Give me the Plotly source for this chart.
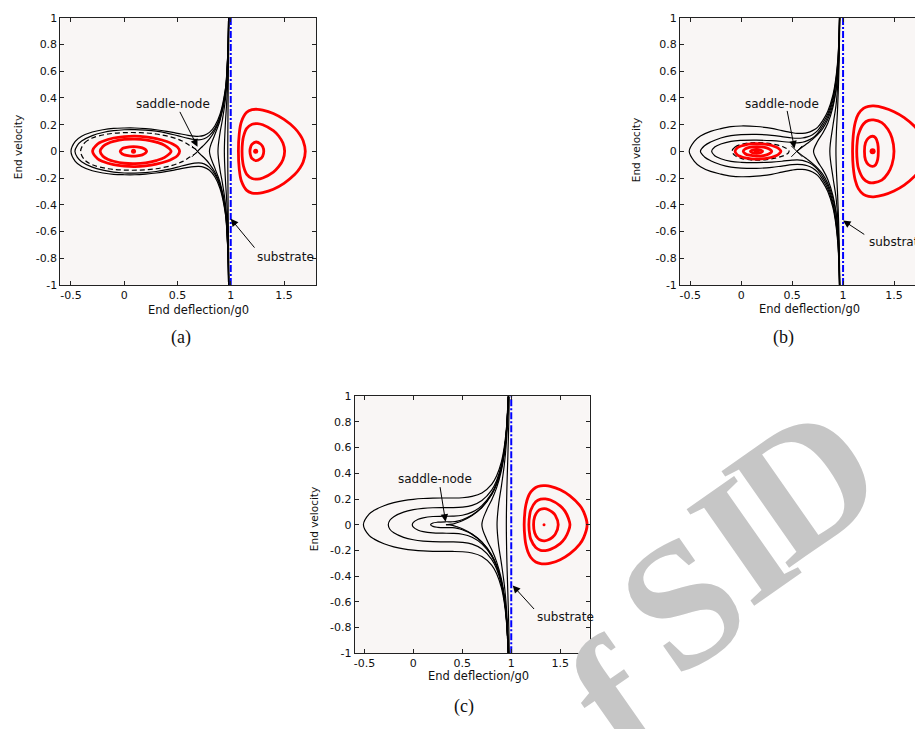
import plotly.graph_objects as go

W, H = 915, 729

# ---------------- tick labels ----------------
x_tick_vals = [-0.5, 0, 0.5, 1, 1.5]
x_tick_text = ["-0.5", "0", "0.5", "1", "1.5"]
y_tick_vals = [-1, -0.8, -0.6, -0.4, -0.2, 0, 0.2, 0.4, 0.6, 0.8, 1]
y_tick_text = ["-1", "-0.8", "-0.6", "-0.4", "-0.2", "0", "0.2", "0.4", "0.6", "0.8", "1"]

# substrate position (same in every panel)
substrate_x = [1.0, 1.0]
substrate_v = [-1.0, 1.0]

# =============== panel (a) ===============
a_red_in_x = [-0.038, -0.02, 0.0, 0.05, 0.087, 0.12, 0.17, 0.2, 0.21]
a_red_in_top = [0.0, 0.019, 0.026, 0.034, 0.036, 0.034, 0.026, 0.013, 0.0]
a_red_in_bot = [0.0, -0.019, -0.026, -0.034, -0.036, -0.034, -0.026, -0.013, 0.0]

a_red_mid_x = [-0.226, -0.2, -0.15, -0.1, 0.0, 0.1, 0.2, 0.3, 0.38, 0.44]
a_red_mid_top = [0.0, 0.037, 0.061, 0.074, 0.089, 0.092, 0.086, 0.069, 0.045, 0.0]
a_red_mid_bot = [0.0, -0.037, -0.061, -0.074, -0.089, -0.092, -0.086, -0.069, -0.045, 0.0]

a_red_out_x = [-0.297, -0.25, -0.2, -0.1, 0.0, 0.1, 0.2, 0.3, 0.4, 0.45, 0.5, 0.52]
a_red_out_top = [0.0, 0.055, 0.076, 0.1, 0.111, 0.114, 0.109, 0.096, 0.074, 0.057, 0.032, 0.0]
a_red_out_bot = [0.0, -0.055, -0.076, -0.1, -0.111, -0.114, -0.109, -0.096, -0.074, -0.057, -0.032, 0.0]

a_dash_x = [-0.41, -0.37, -0.3, -0.15, 0.0, 0.15, 0.3, 0.45, 0.55, 0.62, 0.687]
a_dash_top = [0.0, 0.065, 0.1, 0.13, 0.14, 0.14, 0.13, 0.105, 0.075, 0.04, 0.0]
a_dash_bot = [0.0, -0.065, -0.1, -0.13, -0.14, -0.14, -0.13, -0.105, -0.075, -0.04, 0.0]

a_c1_x = [0.98, 0.975, 0.965, 0.95, 0.9, 0.85, 0.8, 0.75, 0.7, 0.6, 0.5, 0.4, 0.3, 0.2, 0.1, 0.0, -0.1, -0.2, -0.3, -0.4, -0.46, -0.5]
a_c1_top = [1.0, 0.8, 0.62, 0.47, 0.28, 0.19, 0.142, 0.12, 0.113, 0.12, 0.135, 0.15, 0.162, 0.17, 0.175, 0.175, 0.172, 0.162, 0.145, 0.113, 0.075, 0.0]
a_c1_bot = [-1.0, -0.8, -0.62, -0.47, -0.28, -0.19, -0.142, -0.12, -0.113, -0.12, -0.135, -0.15, -0.162, -0.17, -0.175, -0.175, -0.172, -0.162, -0.145, -0.113, -0.075, 0.0]

a_c2_x = [0.98, 0.975, 0.965, 0.95, 0.9, 0.85, 0.8, 0.75, 0.7, 0.6, 0.5, 0.4, 0.3, 0.2, 0.1, 0.0, -0.1, -0.2, -0.3, -0.4, -0.44, -0.463]
a_c2_top = [1.0, 0.79, 0.61, 0.46, 0.26, 0.17, 0.12, 0.094, 0.086, 0.097, 0.118, 0.137, 0.151, 0.159, 0.163, 0.162, 0.155, 0.141, 0.118, 0.077, 0.045, 0.0]
a_c2_bot = [-1.0, -0.79, -0.61, -0.46, -0.26, -0.17, -0.12, -0.094, -0.086, -0.097, -0.118, -0.137, -0.151, -0.159, -0.163, -0.162, -0.155, -0.141, -0.118, -0.077, -0.045, 0.0]

a_sep_x = [0.98, 0.975, 0.965, 0.95, 0.9, 0.85, 0.8, 0.75, 0.72, 0.687]
a_sep_top = [1.0, 0.78, 0.6, 0.44, 0.25, 0.155, 0.093, 0.048, 0.026, 0.0]
a_sep_bot = [-1.0, -0.78, -0.6, -0.44, -0.25, -0.155, -0.093, -0.048, -0.026, 0.0]

a_p1_x = [0.98, 0.975, 0.965, 0.95, 0.9, 0.85, 0.8]
a_p1_top = [1.0, 0.8, 0.6, 0.43, 0.233, 0.124, 0.0]
a_p1_bot = [-1.0, -0.8, -0.6, -0.43, -0.233, -0.124, 0.0]
a_p2_x = [0.981, 0.976, 0.967, 0.95, 0.92, 0.9, 0.88]
a_p2_top = [1.0, 0.78, 0.58, 0.39, 0.229, 0.142, 0.0]
a_p2_bot = [-1.0, -0.78, -0.58, -0.39, -0.229, -0.142, 0.0]
a_p3_x = [0.982, 0.977, 0.97, 0.96, 0.95, 0.94]
a_p3_top = [1.0, 0.72, 0.5, 0.34, 0.214, 0.0]
a_p3_bot = [-1.0, -0.72, -0.5, -0.34, -0.214, 0.0]
a_p4_x = [0.983, 0.98, 0.977, 0.975, 0.972]
a_p4_top = [1.0, 0.75, 0.55, 0.38, 0.0]
a_p4_bot = [-1.0, -0.75, -0.55, -0.38, 0.0]

a_rr_out_x = [1.072, 1.08, 1.1, 1.15, 1.2, 1.25, 1.3, 1.4, 1.5, 1.6, 1.65, 1.68, 1.7]
a_rr_out_top = [0.0, 0.133, 0.222, 0.292, 0.312, 0.315, 0.309, 0.283, 0.239, 0.174, 0.125, 0.08, 0.0]
a_rr_out_bot = [0.0, -0.133, -0.222, -0.292, -0.312, -0.315, -0.309, -0.283, -0.239, -0.174, -0.125, -0.08, 0.0]
a_rr_mid_x = [1.106, 1.11, 1.12, 1.15, 1.2, 1.25, 1.3, 1.4, 1.45, 1.49, 1.506]
a_rr_mid_top = [0.0, 0.064, 0.112, 0.172, 0.203, 0.208, 0.199, 0.155, 0.115, 0.062, 0.0]
a_rr_mid_bot = [0.0, -0.064, -0.112, -0.172, -0.203, -0.208, -0.199, -0.155, -0.115, -0.062, 0.0]
a_rr_in_x = [1.18, 1.19, 1.2, 1.238, 1.28, 1.3, 1.31]
a_rr_in_top = [0.0, 0.04, 0.054, 0.07, 0.055, 0.035, 0.0]
a_rr_in_bot = [0.0, -0.04, -0.054, -0.07, -0.055, -0.035, 0.0]

a_center_x = [0.087, 1.234]
a_center_v = [0.0, 0.0]
a_saddle_x = [0.687]
a_saddle_v = [0.0]

# =============== panel (b) ===============
b_red_out_x = [-0.06, -0.04, 0.0, 0.05, 0.1, 0.15, 0.2, 0.25, 0.3, 0.34, 0.37, 0.39]
b_red_out_top = [0.0, 0.025, 0.04, 0.051, 0.056, 0.058, 0.056, 0.052, 0.044, 0.033, 0.02, 0.0]
b_red_out_bot = [0.0, -0.025, -0.04, -0.051, -0.056, -0.058, -0.056, -0.052, -0.044, -0.033, -0.02, 0.0]
b_red_mid_x = [0.02, 0.04, 0.08, 0.15, 0.22, 0.27, 0.3]
b_red_mid_top = [0.0, 0.018, 0.029, 0.035, 0.031, 0.02, 0.0]
b_red_mid_bot = [0.0, -0.018, -0.029, -0.035, -0.031, -0.02, 0.0]
b_red_in_x = [0.09, 0.11, 0.15, 0.19, 0.21]
b_red_in_top = [0.0, 0.01, 0.014, 0.01, 0.0]
b_red_in_bot = [0.0, -0.01, -0.014, -0.01, 0.0]

b_dash_x = [-0.09, -0.06, 0.0, 0.08, 0.15, 0.25, 0.35, 0.42, 0.46, 0.47]
b_dash_top = [0.0, 0.032, 0.052, 0.063, 0.066, 0.062, 0.048, 0.031, 0.014, 0.0]
b_dash_bot = [0.0, -0.032, -0.052, -0.063, -0.066, -0.062, -0.048, -0.031, -0.014, 0.0]

b_c1_x = [0.965, 0.96, 0.95, 0.93, 0.9, 0.85, 0.8, 0.75, 0.7, 0.65, 0.6, 0.55, 0.5, 0.4, 0.3, 0.15, 0.0, -0.1, -0.2, -0.3, -0.4, -0.46, -0.51]
b_c1_top = [1.0, 0.86, 0.7, 0.55, 0.42, 0.3, 0.23, 0.18, 0.155, 0.14, 0.135, 0.135, 0.14, 0.155, 0.172, 0.186, 0.19, 0.185, 0.17, 0.15, 0.115, 0.075, 0.0]
b_c1_bot = [-1.0, -0.86, -0.7, -0.55, -0.42, -0.3, -0.23, -0.18, -0.155, -0.14, -0.135, -0.135, -0.14, -0.155, -0.172, -0.186, -0.19, -0.185, -0.17, -0.15, -0.115, -0.075, 0.0]
b_c2_x = [0.965, 0.96, 0.95, 0.93, 0.9, 0.85, 0.8, 0.75, 0.7, 0.65, 0.6, 0.55, 0.5, 0.4, 0.3, 0.15, 0.0, -0.1, -0.2, -0.3, -0.36, -0.4]
b_c2_top = [1.0, 0.85, 0.68, 0.53, 0.4, 0.28, 0.21, 0.155, 0.125, 0.108, 0.1, 0.098, 0.1, 0.11, 0.12, 0.127, 0.125, 0.118, 0.1, 0.07, 0.042, 0.0]
b_c2_bot = [-1.0, -0.85, -0.68, -0.53, -0.4, -0.28, -0.21, -0.155, -0.125, -0.108, -0.1, -0.098, -0.1, -0.11, -0.12, -0.127, -0.125, -0.118, -0.1, -0.07, -0.042, 0.0]
b_c3_x = [0.965, 0.96, 0.95, 0.93, 0.9, 0.85, 0.8, 0.75, 0.7, 0.65, 0.6, 0.55, 0.5, 0.4, 0.3, 0.15, 0.0, -0.1, -0.2, -0.26, -0.29]
b_c3_top = [1.0, 0.84, 0.67, 0.52, 0.38, 0.26, 0.19, 0.135, 0.1, 0.08, 0.068, 0.064, 0.066, 0.074, 0.08, 0.084, 0.082, 0.075, 0.055, 0.033, 0.0]
b_c3_bot = [-1.0, -0.84, -0.67, -0.52, -0.38, -0.26, -0.19, -0.135, -0.1, -0.08, -0.068, -0.064, -0.066, -0.074, -0.08, -0.084, -0.082, -0.075, -0.055, -0.033, 0.0]

b_sep_x = [0.966, 0.96, 0.95, 0.93, 0.9, 0.85, 0.8, 0.75, 0.7, 0.65, 0.6, 0.546]
b_sep_top = [1.0, 0.78, 0.6, 0.46, 0.35, 0.24, 0.17, 0.125, 0.09, 0.06, 0.032, 0.0]
b_sep_bot = [-1.0, -0.78, -0.6, -0.46, -0.35, -0.24, -0.17, -0.125, -0.09, -0.06, -0.032, 0.0]

b_p1_x = [0.966, 0.96, 0.95, 0.93, 0.9, 0.85, 0.8, 0.75, 0.71]
b_p1_top = [1.0, 0.76, 0.6, 0.45, 0.33, 0.21, 0.135, 0.075, 0.0]
b_p1_bot = [-1.0, -0.76, -0.6, -0.45, -0.33, -0.21, -0.135, -0.075, 0.0]
b_p2_x = [0.967, 0.962, 0.955, 0.945, 0.93, 0.9, 0.87]
b_p2_top = [1.0, 0.8, 0.62, 0.47, 0.34, 0.19, 0.0]
b_p2_bot = [-1.0, -0.8, -0.62, -0.47, -0.34, -0.19, 0.0]
b_p3_x = [0.968, 0.962, 0.955, 0.945, 0.935, 0.93]
b_p3_top = [1.0, 0.7, 0.5, 0.3, 0.15, 0.0]
b_p3_bot = [-1.0, -0.7, -0.5, -0.3, -0.15, 0.0]

b_rr_out_x = [1.093, 1.1, 1.12, 1.15, 1.2, 1.25, 1.3, 1.4, 1.5, 1.6, 1.7, 1.75, 1.81]
b_rr_out_top = [0.0, 0.12, 0.218, 0.279, 0.322, 0.337, 0.34, 0.326, 0.297, 0.253, 0.188, 0.141, 0.0]
b_rr_out_bot = [0.0, -0.12, -0.218, -0.279, -0.322, -0.337, -0.34, -0.326, -0.297, -0.253, -0.188, -0.141, 0.0]
b_rr_mid_x = [1.134, 1.14, 1.15, 1.2, 1.25, 1.3, 1.38, 1.44, 1.48, 1.5]
b_rr_mid_top = [0.0, 0.08, 0.125, 0.205, 0.232, 0.235, 0.215, 0.165, 0.1, 0.0]
b_rr_mid_bot = [0.0, -0.08, -0.125, -0.205, -0.232, -0.235, -0.215, -0.165, -0.1, 0.0]
b_rr_in_x = [1.21, 1.22, 1.25, 1.29, 1.32, 1.34, 1.346]
b_rr_in_top = [0.0, 0.065, 0.1, 0.113, 0.1, 0.06, 0.0]
b_rr_in_bot = [0.0, -0.065, -0.1, -0.113, -0.1, -0.06, 0.0]

b_center_x = [0.153, 1.29]
b_center_v = [0.0, 0.0]
b_saddle_x = [0.546]
b_saddle_v = [0.0]

# =============== panel (c) ===============
c_c1_x = [0.967, 0.96, 0.95, 0.93, 0.9, 0.85, 0.8, 0.7, 0.6, 0.5, 0.4, 0.3, 0.2, 0.1, 0.0, -0.1, -0.2, -0.3, -0.4, -0.45, -0.51]
c_c1_top = [1.0, 0.844, 0.744, 0.611, 0.491, 0.379, 0.314, 0.247, 0.22, 0.21, 0.208, 0.208, 0.207, 0.204, 0.198, 0.188, 0.172, 0.148, 0.112, 0.085, 0.0]
c_c1_bot = [-1.0, -0.844, -0.744, -0.611, -0.491, -0.379, -0.314, -0.247, -0.22, -0.21, -0.208, -0.208, -0.207, -0.204, -0.198, -0.188, -0.172, -0.148, -0.112, -0.085, 0.0]
c_c2_x = [0.969, 0.95, 0.93, 0.9, 0.85, 0.8, 0.7, 0.6, 0.5, 0.4, 0.3, 0.2, 0.1, 0.0, -0.1, -0.2, -0.24, -0.256]
c_c2_top = [1.0, 0.727, 0.59, 0.465, 0.343, 0.27, 0.189, 0.151, 0.137, 0.133, 0.133, 0.132, 0.127, 0.117, 0.098, 0.063, 0.035, 0.0]
c_c2_bot = [-1.0, -0.727, -0.59, -0.465, -0.343, -0.27, -0.189, -0.151, -0.137, -0.133, -0.133, -0.132, -0.127, -0.117, -0.098, -0.063, -0.035, 0.0]
c_c3_x = [0.971, 0.95, 0.93, 0.9, 0.85, 0.8, 0.7, 0.6, 0.5, 0.4, 0.3, 0.2, 0.1, 0.05, 0.0, -0.011]
c_c3_top = [1.0, 0.718, 0.578, 0.45, 0.323, 0.244, 0.149, 0.098, 0.074, 0.067, 0.066, 0.064, 0.054, 0.043, 0.019, 0.0]
c_c3_bot = [-1.0, -0.718, -0.578, -0.45, -0.323, -0.244, -0.149, -0.098, -0.074, -0.067, -0.066, -0.064, -0.054, -0.043, -0.019, 0.0]
c_c4_x = [0.971, 0.95, 0.93, 0.9, 0.85, 0.8, 0.7, 0.6, 0.5, 0.45, 0.4, 0.333, 0.25, 0.2, 0.176]
c_c4_top = [1.0, 0.715, 0.575, 0.446, 0.317, 0.236, 0.136, 0.075, 0.039, 0.028, 0.023, 0.023, 0.02, 0.013, 0.0]
c_c4_bot = [-1.0, -0.715, -0.575, -0.446, -0.317, -0.236, -0.136, -0.075, -0.039, -0.028, -0.023, -0.023, -0.02, -0.013, 0.0]

c_sep_x = [0.971, 0.95, 0.93, 0.9, 0.85, 0.8, 0.7, 0.6, 0.5, 0.45, 0.4, 0.333]
c_sep_top = [1.0, 0.715, 0.575, 0.445, 0.316, 0.235, 0.134, 0.072, 0.031, 0.017, 0.005, 0.0]
c_sep_bot = [-1.0, -0.715, -0.575, -0.445, -0.316, -0.235, -0.134, -0.072, -0.031, -0.017, -0.005, 0.0]

c_p1_x = [0.971, 0.95, 0.93, 0.9, 0.85, 0.8, 0.75, 0.7]
c_p1_top = [1.0, 0.702, 0.559, 0.424, 0.287, 0.193, 0.117, 0.0]
c_p1_bot = [-1.0, -0.702, -0.559, -0.424, -0.287, -0.193, -0.117, 0.0]
c_p2_x = [0.972, 0.97, 0.95, 0.93, 0.9, 0.87, 0.855]
c_p2_top = [1.0, 0.911, 0.636, 0.473, 0.303, 0.151, 0.0]
c_p2_bot = [-1.0, -0.911, -0.636, -0.473, -0.303, -0.151, 0.0]
c_p3_x = [0.98, 0.975, 0.97, 0.965, 0.96, 0.955, 0.95]
c_p3_top = [1.0, 0.8, 0.653, 0.523, 0.399, 0.266, 0.0]
c_p3_bot = [-1.0, -0.8, -0.653, -0.523, -0.399, -0.266, 0.0]

c_rr_out_x = [1.132, 1.14, 1.15, 1.17, 1.2, 1.25, 1.3, 1.35, 1.4, 1.5, 1.6, 1.7, 1.74, 1.775]
c_rr_out_top = [0.0, 0.106, 0.156, 0.211, 0.255, 0.29, 0.303, 0.304, 0.299, 0.272, 0.225, 0.15, 0.1, 0.0]
c_rr_out_bot = [0.0, -0.106, -0.156, -0.211, -0.255, -0.29, -0.303, -0.304, -0.299, -0.272, -0.225, -0.15, -0.1, 0.0]
c_rr_mid_x = [1.18, 1.19, 1.2, 1.25, 1.3, 1.35, 1.4, 1.5, 1.55, 1.585, 1.6]
c_rr_mid_top = [0.0, 0.084, 0.114, 0.178, 0.199, 0.201, 0.192, 0.147, 0.104, 0.048, 0.0]
c_rr_mid_bot = [0.0, -0.084, -0.114, -0.178, -0.199, -0.201, -0.192, -0.147, -0.104, -0.048, 0.0]
c_rr_in_x = [1.228, 1.24, 1.27, 1.3, 1.34, 1.38, 1.42, 1.45, 1.48]
c_rr_in_top = [0.0, 0.064, 0.104, 0.12, 0.125, 0.117, 0.098, 0.073, 0.0]
c_rr_in_bot = [0.0, -0.064, -0.104, -0.12, -0.125, -0.117, -0.098, -0.073, 0.0]

c_center_x = [1.335]
c_center_v = [0.0]

# ---------------- styling ----------------
RED = "#ff0000"
BLACK = "#000000"
BLUE = "#0000ff"
AXC = "#222222"
BG = "#f9f6f5"
SANS = "DejaVu Sans"
SERIF = "Liberation Serif"
LW = 1.2

fig = go.Figure()


def loop(x, top, bot):
    """Path along the upper branch, then back along the lower branch."""
    return x + x[::-1][1:], top + bot[::-1][1:]


def curve(x, v, ref, color, width, dash="solid"):
    fig.add_trace(go.Scatter(
        x=x, y=v, mode="lines", xaxis="x" + ref, yaxis="y" + ref,
        line=dict(color=color, width=width, dash=dash, shape="spline", smoothing=1.0),
        hoverinfo="skip", showlegend=False))


def orbit(x, top, bot, ref, color, width, dash="solid"):
    xs, vs = loop(x, top, bot)
    curve(xs, vs, ref, color, width, dash)


def branches(x, top, bot, ref):
    curve(x + [None] + x, top + [None] + bot, ref, BLACK, LW)


def markers(x, v, ref, symbol, size, color, lw=0):
    fig.add_trace(go.Scatter(
        x=x, y=v, mode="markers", xaxis="x" + ref, yaxis="y" + ref,
        marker=dict(symbol=symbol, size=size, color=color, line=dict(width=lw, color=color)),
        hoverinfo="skip", showlegend=False))


def substrate(ref):
    fig.add_trace(go.Scatter(
        x=substrate_x, y=substrate_v, mode="lines", xaxis="x" + ref, yaxis="y" + ref,
        line=dict(color=BLUE, width=2, dash="7px,2px,2px,2px"),
        hoverinfo="skip", showlegend=False))


# ---- panel (a) ----
for xs, t, b in [(a_c1_x, a_c1_top, a_c1_bot), (a_c2_x, a_c2_top, a_c2_bot),
                 (a_p1_x, a_p1_top, a_p1_bot), (a_p2_x, a_p2_top, a_p2_bot),
                 (a_p3_x, a_p3_top, a_p3_bot), (a_p4_x, a_p4_top, a_p4_bot)]:
    orbit(xs, t, b, "", BLACK, LW)
branches(a_sep_x, a_sep_top, a_sep_bot, "")
orbit(a_dash_x, a_dash_top, a_dash_bot, "", BLACK, LW, "5px,3px")
for xs, t, b in [(a_red_in_x, a_red_in_top, a_red_in_bot), (a_red_mid_x, a_red_mid_top, a_red_mid_bot),
                 (a_red_out_x, a_red_out_top, a_red_out_bot), (a_rr_in_x, a_rr_in_top, a_rr_in_bot),
                 (a_rr_mid_x, a_rr_mid_top, a_rr_mid_bot), (a_rr_out_x, a_rr_out_top, a_rr_out_bot)]:
    orbit(xs, t, b, "", RED, 2.8)
substrate("")
markers(a_center_x, a_center_v, "", "circle", 5, RED)
markers(a_saddle_x, a_saddle_v, "", "x-thin", 11, BLACK, 1)

# ---- panel (b) ----
for xs, t, b in [(b_c1_x, b_c1_top, b_c1_bot), (b_c2_x, b_c2_top, b_c2_bot),
                 (b_c3_x, b_c3_top, b_c3_bot), (b_p1_x, b_p1_top, b_p1_bot),
                 (b_p2_x, b_p2_top, b_p2_bot), (b_p3_x, b_p3_top, b_p3_bot)]:
    orbit(xs, t, b, "2", BLACK, LW)
branches(b_sep_x, b_sep_top, b_sep_bot, "2")
orbit(b_dash_x, b_dash_top, b_dash_bot, "2", BLACK, LW, "5px,3px")
for xs, t, b in [(b_red_in_x, b_red_in_top, b_red_in_bot), (b_red_mid_x, b_red_mid_top, b_red_mid_bot),
                 (b_red_out_x, b_red_out_top, b_red_out_bot), (b_rr_in_x, b_rr_in_top, b_rr_in_bot),
                 (b_rr_mid_x, b_rr_mid_top, b_rr_mid_bot), (b_rr_out_x, b_rr_out_top, b_rr_out_bot)]:
    orbit(xs, t, b, "2", RED, 2.8)
substrate("2")
markers(b_center_x, b_center_v, "2", "circle", 6, RED)
markers(b_saddle_x, b_saddle_v, "2", "x-thin", 11, BLACK, 1)

# ---- panel (c) ----
for xs, t, b in [(c_c1_x, c_c1_top, c_c1_bot), (c_c2_x, c_c2_top, c_c2_bot),
                 (c_c3_x, c_c3_top, c_c3_bot), (c_c4_x, c_c4_top, c_c4_bot),
                 (c_p1_x, c_p1_top, c_p1_bot), (c_p2_x, c_p2_top, c_p2_bot),
                 (c_p3_x, c_p3_top, c_p3_bot)]:
    orbit(xs, t, b, "3", BLACK, LW)
branches(c_sep_x, c_sep_top, c_sep_bot, "3")
for xs, t, b in [(c_rr_in_x, c_rr_in_top, c_rr_in_bot), (c_rr_mid_x, c_rr_mid_top, c_rr_mid_bot),
                 (c_rr_out_x, c_rr_out_top, c_rr_out_bot)]:
    orbit(xs, t, b, "3", RED, 2.8)
substrate("3")
markers(c_center_x, c_center_v, "3", "circle", 3, RED)


# ---------------- axes ----------------
def px_x(px):
    return px / W


def px_y(py):
    return 1 - py / H


def xaxis(left, right, rng, anchor):
    return dict(domain=[px_x(left), min(1.0, px_x(right))], range=rng, anchor=anchor,
                tickmode="array", tickvals=x_tick_vals, ticktext=x_tick_text,
                ticks="inside", ticklen=4, tickwidth=1, tickcolor=AXC,
                showline=True, linecolor=AXC, linewidth=1, mirror="ticks",
                showgrid=False, zeroline=False, fixedrange=True,
                tickfont=dict(family=SANS, size=11, color="#111111"))


def yaxis(top, bottom, anchor, mirror="ticks"):
    return dict(domain=[px_y(bottom), px_y(top)], range=[-1, 1], anchor=anchor,
                tickmode="array", tickvals=y_tick_vals, ticktext=y_tick_text,
                ticks="inside", ticklen=4, tickwidth=1, tickcolor=AXC,
                showline=True, linecolor=AXC, linewidth=1, mirror=mirror,
                showgrid=False, zeroline=False, fixedrange=True,
                tickfont=dict(family=SANS, size=11, color="#111111"))


fig.update_layout(
    width=W, height=H, margin=dict(l=0, r=0, t=0, b=0),
    paper_bgcolor="white", plot_bgcolor=BG, showlegend=False,
    xaxis=xaxis(59.4, 315.3, [-0.6, 1.8], "y"),
    yaxis=yaxis(12, 284, "x"),
    xaxis2=xaxis(679.8, 915, [-0.6, 1.706], "y2"),
    yaxis2=yaxis(12, 284, "x2", mirror=False),
    xaxis3=xaxis(354, 589.2, [-0.6, 1.8], "y3"),
    yaxis3=yaxis(397.3, 659, "x3"),
)

ann = []

# watermark letters, laid along a diagonal (drawn first so labels sit above)
for ch, wx, wy in [("f", 616, 708), ("S", 682, 607), ("I", 743, 543), ("D", 805, 485)]:
    ann.append(dict(x=px_x(wx), y=px_y(wy), xref="paper", yref="paper", text=ch,
                    showarrow=False, xanchor="center", yanchor="middle", textangle=-35,
                    font=dict(family=SERIF, size=180, color="#c6c6c6", weight="bold")))


def text(px, py, s, size, family=SANS, angle=0, xanchor="center"):
    ann.append(dict(x=px_x(px), y=px_y(py), xref="paper", yref="paper", text=s,
                    showarrow=False, xanchor=xanchor, yanchor="middle", textangle=angle,
                    font=dict(family=family, size=size, color="#111111")))


def arrow(x, y, ref, dx, dy):
    ann.append(dict(x=x, y=y, xref="x" + ref, yref="y" + ref, text="", showarrow=True,
                    ax=dx, ay=dy, arrowhead=2, arrowsize=1.5, arrowwidth=1,
                    arrowcolor=BLACK, standoff=0))


# axis titles
text(16.5, 143.3, "End velocity", 10.5, angle=-90)
text(635.8, 146.7, "End velocity", 10.5, angle=-90)
text(313.3, 522.5, "End velocity", 10.5, angle=-90)
text(198, 310, "End deflection/g0", 11.5)
text(809, 309, "End deflection/g0", 11.5)
text(478.3, 682.5, "End deflection/g0", 11.5)

# captions
text(180, 338, "(a)", 18, family=SERIF)
text(783, 338, "(b)", 18, family=SERIF)
text(464, 713, "(c)", 18, family=SERIF)

# labels with arrows
text(171.7, 100, "saddle-node", 12)
arrow(0.688, 0.035, "", -18.4, -36.3)
text(285, 256, "substrate", 12)
arrow(1.0, -0.505, "", 25, 30.3)

text(781.7, 99.8, "saddle-node", 12)
arrow(0.523, 0.022, "2", -7.6, -39)
text(866.7, 240.7, "substrate", 12, xanchor="left")
arrow(1.0, -0.517, "2", 22.7, 15)

text(434.2, 481.7, "saddle-node", 12)
arrow(0.329, 0.024, "3", -5.7, -36)
text(565, 622, "substrate", 12)
arrow(1.015, -0.473, "3", 22.7, 25)

fig.update_layout(annotations=ann)

fig.write_html("out.html", config={"displayModeBar": False})
